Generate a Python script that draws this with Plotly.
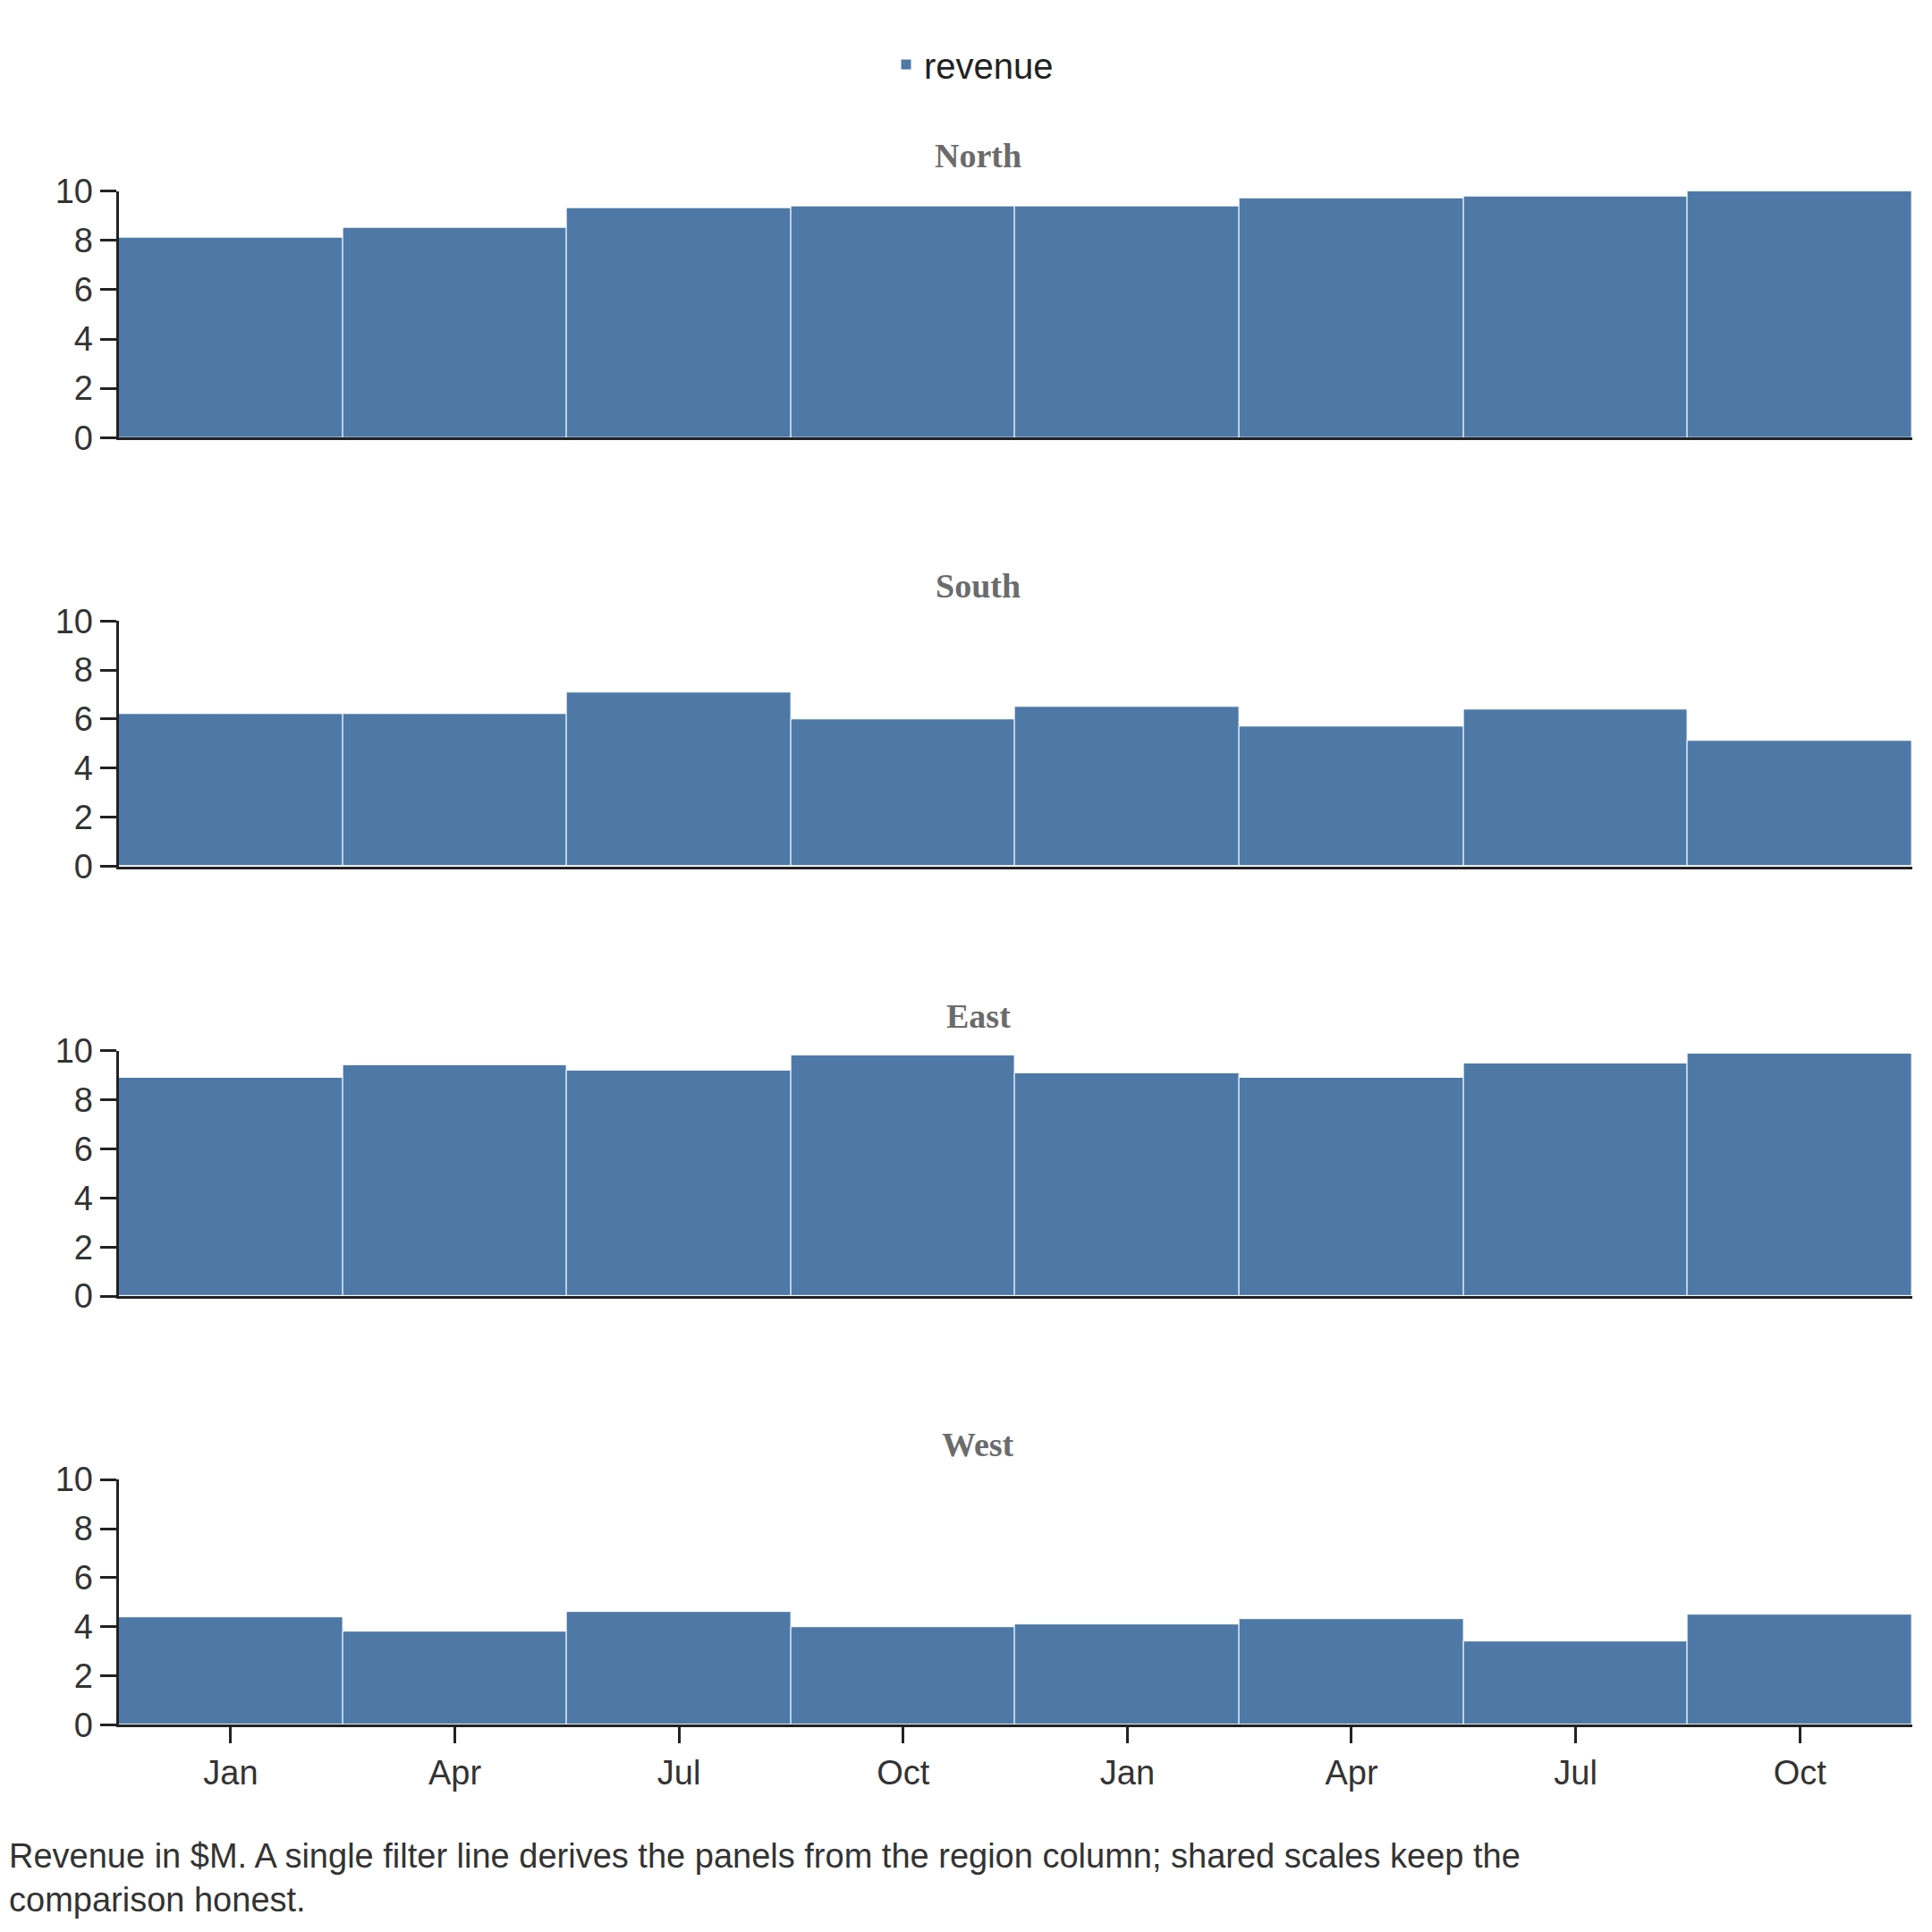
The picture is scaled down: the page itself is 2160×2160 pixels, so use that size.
import plotly.graph_objects as go

regions = ["North", "South", "East", "West"]
quarters = [0, 1, 2, 3, 4, 5, 6, 7]
tick_labels = ["Jan", "Apr", "Jul", "Oct", "Jan", "Apr", "Jul", "Oct"]
north = [8.1, 8.5, 9.3, 9.4, 9.4, 9.7, 9.8, 10.0]
south = [6.2, 6.2, 7.1, 6.0, 6.5, 5.7, 6.4, 5.1]
east = [8.9, 9.4, 9.2, 9.8, 9.1, 8.9, 9.5, 9.9]
west = [4.4, 3.8, 4.6, 4.0, 4.1, 4.3, 3.4, 4.5]
series = [north, south, east, west]

H = 1560.0
rows_px = [(136, 339), (490, 692), (844, 1046), (1197, 1399)]
color = "#4e79a7"
fig = go.Figure()
layout = dict(
    width=2160, height=2160, margin=dict(l=0, r=0, t=0, b=0),
    plot_bgcolor="white", paper_bgcolor="white", bargap=0,
    font=dict(family="Liberation Sans, Arial", size=38, color="#333"),
    showlegend=True,
    legend=dict(orientation="h", x=0.5, xanchor="center", y=0.995, yanchor="top",
                font=dict(size=40, color="#222")),
)
annotations = []
for i, (name, vals) in enumerate(zip(regions, series)):
    ax = "" if i == 0 else str(i + 1)
    fig.add_trace(go.Bar(x=quarters, y=vals, name="revenue", showlegend=(i == 0),
                         marker=dict(color=color, line=dict(color="white", width=1)),
                         xaxis="x" + ax, yaxis="y" + ax))
    top, bot = rows_px[i]
    last = i == 3
    layout["xaxis" + ax] = dict(
        domain=[90 / 1560, 1538 / 1560], range=[-0.5, 7.5], anchor="y" + ax,
        showline=True, linecolor="#222", linewidth=3, showgrid=False, zeroline=False,
        tickmode="array", tickvals=quarters, ticktext=tick_labels if last else [""] * 8,
        ticks="outside" if last else "", ticklen=18, tickwidth=3, tickcolor="#222",
        showticklabels=last, tickfont=dict(size=38, color="#333"),
    )
    layout["yaxis" + ax] = dict(
        domain=[1 - bot / H, 1 - top / H], range=[0, 10], anchor="x" + ax,
        showline=True, linecolor="#222", linewidth=3, showgrid=False, zeroline=False,
        tickvals=[0, 2, 4, 6, 8, 10], ticks="outside", ticklen=18, tickwidth=3,
        tickcolor="#222", tickfont=dict(size=38, color="#333"),
    )
    annotations.append(dict(text="<b>%s</b>" % name, x=784 / 1560, y=1 - (top - 12) / H,
                            xref="paper", yref="paper", xanchor="center", yanchor="bottom",
                            showarrow=False,
                            font=dict(family="Liberation Serif, Times New Roman", size=38, color="#6b6b6b")))
annotations.append(dict(
    text="Revenue in $M. A single filter line derives the panels from the region column; shared scales keep the<br>comparison honest.",
    x=0, y=0.0, xref="paper", yref="paper", xanchor="left", yanchor="bottom",
    align="left", showarrow=False, font=dict(size=38, color="#333")))
layout["annotations"] = annotations
fig.update_layout(**layout)
fig.write_html("out.html")
